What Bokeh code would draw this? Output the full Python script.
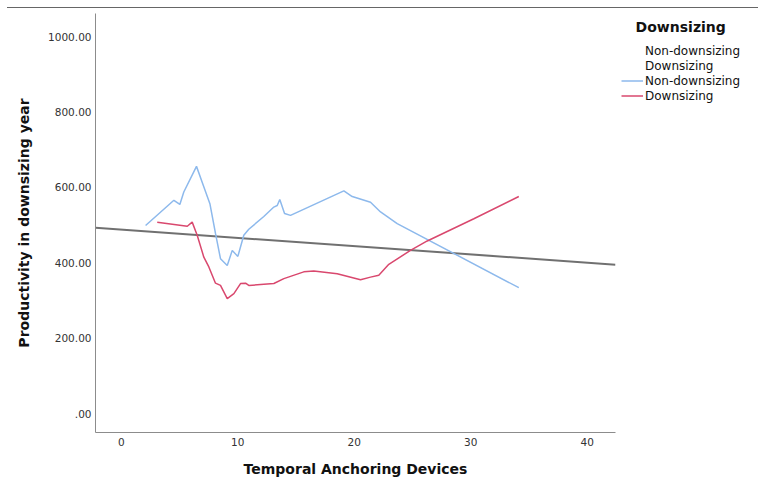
from bokeh.plotting import figure
from bokeh.models import (Range1d, FixedTicker, Legend, LegendItem)
from bokeh.embed import file_html
from bokeh.resources import INLINE

# ---- data ----
non_x = [2.09, 4.52, 5.03, 5.37, 6.46, 7.04, 7.61, 8.09, 8.52, 9.10, 9.53, 10.01,
         10.52, 10.95, 12.24, 13.10, 13.39, 13.61, 14.02, 14.53, 19.11, 19.83,
         21.40, 22.26, 23.69, 34.13]
non_y = [499, 566, 555, 588, 656, 606, 557, 478, 411, 393, 433, 417,
         473, 489, 523, 548, 552, 568, 531, 526, 591, 576,
         561, 535, 504, 334]

down_x = [3.09, 5.67, 6.09, 6.52, 7.09, 7.52, 8.09, 8.52, 9.10, 9.67, 10.24, 10.67,
          10.95, 13.10, 13.96, 15.67, 16.53, 18.54, 20.54, 21.40, 22.11, 22.97,
          24.83, 26.27, 30.27, 34.13]
down_y = [508, 497, 508, 473, 415, 389, 346, 340, 305, 318, 345, 346,
          340, 345, 358, 376, 378, 371, 355, 362, 367, 396,
          433, 458, 517, 576]

fit_x = [-2.21, 42.43]
fit_y = [492.8, 395.2]

x_ticks = [0, 10, 20, 30, 40]
y_ticks = [0, 200, 400, 600, 800, 1000]
y_tick_labels = [".00", "200.00", "400.00", "600.00", "800.00", "1000.00"]

legend_title = "Downsizing"
legend_labels = ["Non-downsizing", "Downsizing", "Non-downsizing", "Downsizing"]

FONT = "DejaVu Sans"
BLUE = "#8db9ec"
RED = "#d9486e"

p = figure(frame_width=520, frame_height=419, output_backend="svg",
           toolbar_location=None,
           x_range=Range1d(-2.21, 42.43), y_range=Range1d(-50.4, 1061.8),
           min_border_left=88, min_border_right=143, min_border_top=5,
           min_border_bottom=51)
p.styles = {"margin-top": "7px", "margin-left": "7px",
            "border-top": "1px solid #666666"}
p.outline_line_color = None
p.grid.visible = False

# fit line
p.line(fit_x, fit_y, line_color="#707070", line_width=2)
# curves
r_non = p.line(non_x, non_y, line_color=BLUE, line_width=1.5)
r_down = p.line(down_x, down_y, line_color=RED, line_width=1.5)
# invisible renderers for text-only legend rows
r_e1 = p.line([], [], line_alpha=0)
r_e2 = p.line([], [], line_alpha=0)

# axes
for ax in (p.xaxis[0], p.yaxis[0]):
    ax.axis_line_color = "#8c8c8c"
    ax.axis_line_width = 1
    ax.major_tick_out = 0
    ax.major_tick_in = 0
    ax.minor_tick_out = 0
    ax.minor_tick_in = 0
    ax.major_label_text_font = FONT
    ax.major_label_text_font_size = "10.5px"
    ax.major_label_text_color = "#333333"
    ax.axis_label_text_font = FONT
    ax.axis_label_text_font_size = "14px"
    ax.axis_label_text_font_style = "bold"
    ax.axis_label_text_color = "#111111"

p.xaxis[0].ticker = FixedTicker(ticks=x_ticks)
p.xaxis[0].major_label_standoff = 5
p.xaxis[0].axis_label = "Temporal Anchoring Devices"
p.xaxis[0].axis_label_standoff = 12

p.yaxis[0].ticker = FixedTicker(ticks=y_ticks)
p.yaxis[0].major_label_overrides = {t: l for t, l in zip(y_ticks, y_tick_labels)}
p.yaxis[0].major_label_standoff = 4
p.yaxis[0].axis_label = "Productivity in downsizing year"
p.yaxis[0].axis_label_standoff = 13

legend = Legend(items=[
    LegendItem(label=legend_labels[0], renderers=[r_e1]),
    LegendItem(label=legend_labels[1], renderers=[r_e2]),
    LegendItem(label=legend_labels[2], renderers=[r_non]),
    LegendItem(label=legend_labels[3], renderers=[r_down]),
], location="top_left")
legend.title = "\u00a0\u00a0\u00a0" + legend_title
legend.title_text_font = FONT
legend.title_text_font_size = "14px"
legend.title_text_font_style = "bold"
legend.title_text_color = "#111111"
legend.title_standoff = 8
legend.padding = 0
legend.margin = 6
legend.spacing = 0
legend.label_height = 15
legend.glyph_height = 15
legend.glyph_width = 22
legend.label_standoff = 2
legend.label_text_font = FONT
legend.label_text_font_size = "12px"
legend.label_text_color = "#111111"
legend.border_line_alpha = 0
legend.background_fill_alpha = 0
p.add_layout(legend, "right")

open("out.html", "w").write(file_html(p, INLINE))
